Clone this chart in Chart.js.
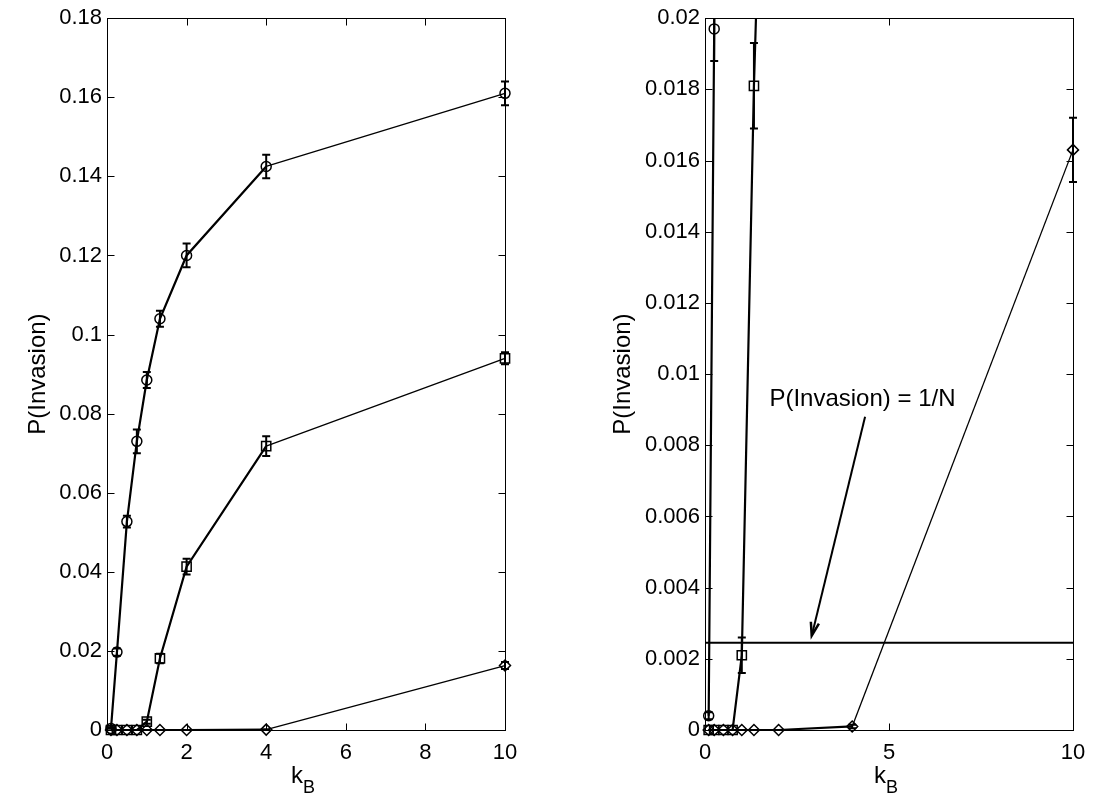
<!DOCTYPE html>
<html>
<head>
<meta charset="utf-8">
<script src="https://cdn.jsdelivr.net/npm/chart.js@4/dist/chart.umd.min.js"></script>
<style>
  html, body { margin: 0; padding: 0; background: #fff; }
  #wrap { position: relative; width: 1108px; height: 804px; background: #fff; }
  .pane { position: absolute; top: 0; width: 554px; height: 804px; }
</style>
</head>
<body>
<div id="wrap">
  <div class="pane" style="left:0"><canvas id="left" width="554" height="804"></canvas></div>
  <div class="pane" style="left:554px"><canvas id="right" width="554" height="804"></canvas></div>
</div>
<script>
// ---- data ----
const kB = [0.1, 0.25, 0.5, 0.75, 1, 1.33, 2, 4, 10];
const circleP   = [0.0004, 0.0197, 0.0527, 0.0730, 0.0885, 0.1040, 0.1200, 0.1425, 0.1610];
const circleErr = [0.0001, 0.0009, 0.0015, 0.0030, 0.0020, 0.0020, 0.0030, 0.0030, 0.0030];
const squareP   = [0, 0, 0, 0, 0.0021, 0.0181, 0.0413, 0.0718, 0.0940];
const squareErr = [0, 0, 0, 0, 0.0005, 0.0012, 0.0020, 0.0025, 0.0015];
const diamondP   = [0, 0, 0, 0, 0, 0, 0, 0.0001, 0.0163];
const diamondErr = [0, 0, 0, 0, 0, 0, 0, 0.00005, 0.0009];
const invOverN = 0.00245;           // P(Invasion) = 1/N
const refX = [0, 10];

const leftY  = { min: 0, max: 0.18, step: 0.02 };
const rightY = { min: 0, max: 0.02, step: 0.002 };
const leftX  = { min: 0, max: 10, step: 2 };
const rightX = { min: 0, max: 10, step: 5 };

const annotText = 'P(Invasion) = 1/N';
const annotPos = { x: 1.75, y: 0.0093 };
const arrowFrom = { x: 4.35, y: 0.0088 };
const arrowTo = { x: 2.9, y: 0.00265 };

const FONT = '"Liberation Sans", Arial, Helvetica, sans-serif';

function pts(xs, ys) { return xs.map((x, i) => ({ x: x, y: ys[i] })); }

function seriesSets() {
  const seg = { borderWidth: c => (c.p1.parsed.x >= 10 ? 1.3 : 2.2) };
  const common = { borderColor: '#000', backgroundColor: 'rgba(0,0,0,0)', pointBorderColor: '#000',
    pointBackgroundColor: 'rgba(0,0,0,0)', pointBorderWidth: 1.5, tension: 0, fill: false, segment: seg,
    clip: { left: 12, right: 12, top: 0, bottom: 12 } };
  return [
    Object.assign({ label: 'circle', data: pts(kB, circleP), errors: circleErr, pointStyle: 'circle', pointRadius: 5 }, common),
    Object.assign({ label: 'square', data: pts(kB, squareP), errors: squareErr, pointStyle: 'rect', pointRadius: 6.5 }, common),
    Object.assign({ label: 'diamond', data: pts(kB, diamondP), errors: diamondErr, pointStyle: 'rectRot', pointRadius: 5.5 }, common)
  ];
}

const errorBars = {
  id: 'errorBars',
  afterDatasetsDraw(chart) {
    const { ctx, chartArea: a, scales: { x, y } } = chart;
    ctx.save();
    ctx.beginPath(); ctx.rect(a.left - 20, a.top, a.right - a.left + 40, a.bottom - a.top + 20); ctx.clip();
    ctx.strokeStyle = '#000'; ctx.lineWidth = 2;
    chart.data.datasets.forEach(ds => {
      if (!ds.errors) return;
      ds.data.forEach((p, i) => {
        const e = ds.errors[i];
        if (!e) return;
        const px = x.getPixelForValue(p.x);
        const y1 = y.getPixelForValue(p.y - e), y2 = y.getPixelForValue(p.y + e);
        ctx.beginPath();
        ctx.moveTo(px, y1); ctx.lineTo(px, y2);
        ctx.moveTo(px - 4, y1); ctx.lineTo(px + 4, y1);
        ctx.moveTo(px - 4, y2); ctx.lineTo(px + 4, y2);
        ctx.stroke();
      });
    });
    ctx.restore();
  }
};

const boxTicks = {
  id: 'boxTicks',
  afterDraw(chart) {
    const { ctx, chartArea: a, scales: { x, y } } = chart;
    const L = 7;
    ctx.save();
    ctx.strokeStyle = '#000'; ctx.lineWidth = 1;
    const l = Math.round(a.left) + 0.5, r = Math.round(a.right) + 0.5;
    const t = Math.round(a.top) + 0.5, b = Math.round(a.bottom) + 0.5;
    ctx.strokeRect(l, t, r - l, b - t);
    ctx.beginPath();
    x.ticks.forEach(tk => {
      const px = Math.round(x.getPixelForValue(tk.value)) + 0.5;
      ctx.moveTo(px, b); ctx.lineTo(px, b - L);
      ctx.moveTo(px, t); ctx.lineTo(px, t + L);
    });
    y.ticks.forEach(tk => {
      const py = Math.round(y.getPixelForValue(tk.value)) + 0.5;
      ctx.moveTo(l, py); ctx.lineTo(l + L, py);
      ctx.moveTo(r, py); ctx.lineTo(r - L, py);
    });
    ctx.stroke();
    // x axis title k_B
    const cx = (a.left + a.right) / 2;
    ctx.fillStyle = '#000';
    ctx.textBaseline = 'alphabetic'; ctx.textAlign = 'left';
    ctx.font = '24px ' + FONT;
    const wk = ctx.measureText('k').width;
    ctx.font = '18px ' + FONT;
    const wb = ctx.measureText('B').width;
    const sx = cx - (wk + wb) / 2 - 3;
    ctx.font = '24px ' + FONT;
    ctx.fillText('k', sx, 783);
    ctx.font = '18px ' + FONT;
    ctx.fillText('B', sx + wk, 793);
    ctx.restore();
  }
};

const annot = {
  id: 'annot',
  afterDraw(chart) {
    if (!chart.options.plugins.annot || !chart.options.plugins.annot.on) return;
    const { ctx, scales: { x, y } } = chart;
    ctx.save();
    ctx.fillStyle = '#000'; ctx.strokeStyle = '#000';
    ctx.font = '24px ' + FONT;
    ctx.textAlign = 'left'; ctx.textBaseline = 'middle';
    ctx.fillText(annotText, x.getPixelForValue(annotPos.x), y.getPixelForValue(annotPos.y));
    const x1 = x.getPixelForValue(arrowFrom.x), y1 = y.getPixelForValue(arrowFrom.y);
    const x2 = x.getPixelForValue(arrowTo.x), y2 = y.getPixelForValue(arrowTo.y);
    ctx.lineWidth = 2;
    ctx.beginPath(); ctx.moveTo(x1, y1); ctx.lineTo(x2, y2); ctx.stroke();
    const ang = Math.atan2(y2 - y1, x2 - x1), h = 14, sp = 0.3;
    ctx.lineWidth = 2.5;
    ctx.beginPath();
    ctx.moveTo(x2 - h * Math.cos(ang - sp), y2 - h * Math.sin(ang - sp));
    ctx.lineTo(x2, y2);
    ctx.lineTo(x2 - h * Math.cos(ang + sp), y2 - h * Math.sin(ang + sp));
    ctx.stroke();
    ctx.restore();
  }
};

function fmt(v) { return String(+Number(v).toFixed(4)); }

function makeChart(id, xr, yr, yAxisW, padRight, titlePad, datasets, annotOn) {
  return new Chart(document.getElementById(id), {
    type: 'line',
    data: { datasets: datasets },
    plugins: [errorBars, boxTicks, annot],
    options: {
      responsive: false, animation: false, devicePixelRatio: 1,
      layout: { padding: { left: 0, right: padRight, top: 14, bottom: 0 } },
      plugins: { legend: { display: false }, tooltip: { enabled: false }, annot: { on: annotOn } },
      scales: {
        x: {
          type: 'linear', min: xr.min, max: xr.max,
          grid: { display: false, drawTicks: false }, border: { display: false },
          ticks: { stepSize: xr.step, color: '#000', padding: 10, maxRotation: 0, font: { family: FONT, size: 22 }, callback: fmt },
          afterFit: s => { s.height = 74; }
        },
        y: {
          type: 'linear', min: yr.min, max: yr.max,
          grid: { display: false, drawTicks: false }, border: { display: false },
          ticks: { stepSize: yr.step, color: '#000', padding: 5, font: { family: FONT, size: 22 }, callback: fmt },
          title: { display: true, text: 'P(Invasion)', color: '#000', font: { family: FONT, size: 24, lineHeight: 1 }, padding: { top: titlePad, bottom: 0 } },
          afterFit: s => { s.width = yAxisW; }
        }
      }
    }
  });
}

makeChart('left', leftX, leftY, 107, 49, 26, seriesSets(), false);

const rightSets = seriesSets();
rightSets.push({ label: '1/N', data: pts(refX, [invOverN, invOverN]), borderColor: '#000', borderWidth: 2, pointRadius: 0, fill: false });
makeChart('right', rightX, rightY, 151, 35, 57, rightSets, true);
</script>
</body>
</html>
